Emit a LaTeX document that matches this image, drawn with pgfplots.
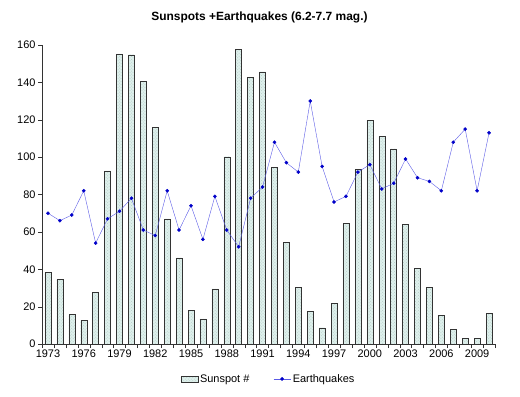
\documentclass[border=0pt]{standalone}
\usepackage{pgfplots}
\pgfplotsset{compat=1.18}
\usepackage{fontspec}
\setmainfont{Liberation Sans}
\usetikzlibrary{patterns}
\definecolor{barfill}{RGB}{222,240,236}
\definecolor{dotc}{RGB}{185,205,200}
\definecolor{linec}{RGB}{90,90,230}
\definecolor{markc}{RGB}{0,0,200}
\pgfplotstableread{
year sun quake
1973 38.4 70
1974 34.6 66
1975 15.9 69
1976 12.7 82
1977 27.7 54
1978 92.7 67
1979 155.2 71
1980 154.8 78
1981 140.7 61
1982 115.9 58
1983 67 82
1984 46.1 61
1985 18 74
1986 13.4 56
1987 29.5 79
1988 100.2 61
1989 157.8 52
1990 142.8 78
1991 145.7 84
1992 94.4 108
1993 54.5 97
1994 30.2 92
1995 17.5 130
1996 8.7 95
1997 21.6 76
1998 64.4 79
1999 93.5 92
2000 119.8 96
2001 111.2 83
2002 104.4 86
2003 63.9 99
2004 40.5 89
2005 30.2 87
2006 15.4 82
2007 7.9 108
2008 3.2 115
2009 3.2 82
2010 16.4 113
}\data
\begin{document}
\begin{tikzpicture}
\path[use as bounding box] (-42bp,-53bp) rectangle (478bp,344bp);
\begin{axis}[
  scale only axis,
  width=453bp, height=299bp,
  xmin=1972.5, xmax=2010.5,
  ymin=0, ymax=160,
  axis x line=bottom, axis y line=left,
  axis line style={-, black!80},
  xtick={1973,1976,...,2009},
  major x tick style={draw=none},
  minor xtick={1972.5,1973.5,...,2010.5},
  minor x tick style={black!80},
  minor tick length=4bp,
  ytick={0,20,...,160},
  major tick length=4bp,
  tick align=outside,
  y tick style={black!80},
  xticklabel style={font=\fontsize{11}{13}\selectfont, yshift=2bp},
  yticklabel style={font=\fontsize{11}{13}\selectfont, xshift=1bp},
  /pgf/number format/assume math mode=true,
  /pgf/number format/1000 sep={},
  title={\bfseries Sunspots +Earthquakes (6.2-7.7 mag.)},
  title style={font=\fontsize{12}{14}\selectfont, at={(0.48,1)}, yshift=12bp},
  legend style={draw=none, at={(0.5,-0.117)}, anchor=center, legend columns=2,
    font=\fontsize{11}{13}\selectfont, /tikz/every even column/.append style={column sep=22bp}},
  clip=false,
]
\addplot[ybar, bar width=6bp, draw=black!80, fill=barfill,
  postaction={pattern=crosshatch dots, pattern color=dotc}, area legend] table[x=year,y=sun]{\data};
\addlegendentry{Sunspot \#}
\addplot[color=linec, mark=*, mark size=1.6bp, mark options={fill=markc, draw=markc}] table[x=year,y=quake]{\data};
\addlegendentry{Earthquakes}
\end{axis}
\end{tikzpicture}
\end{document}
